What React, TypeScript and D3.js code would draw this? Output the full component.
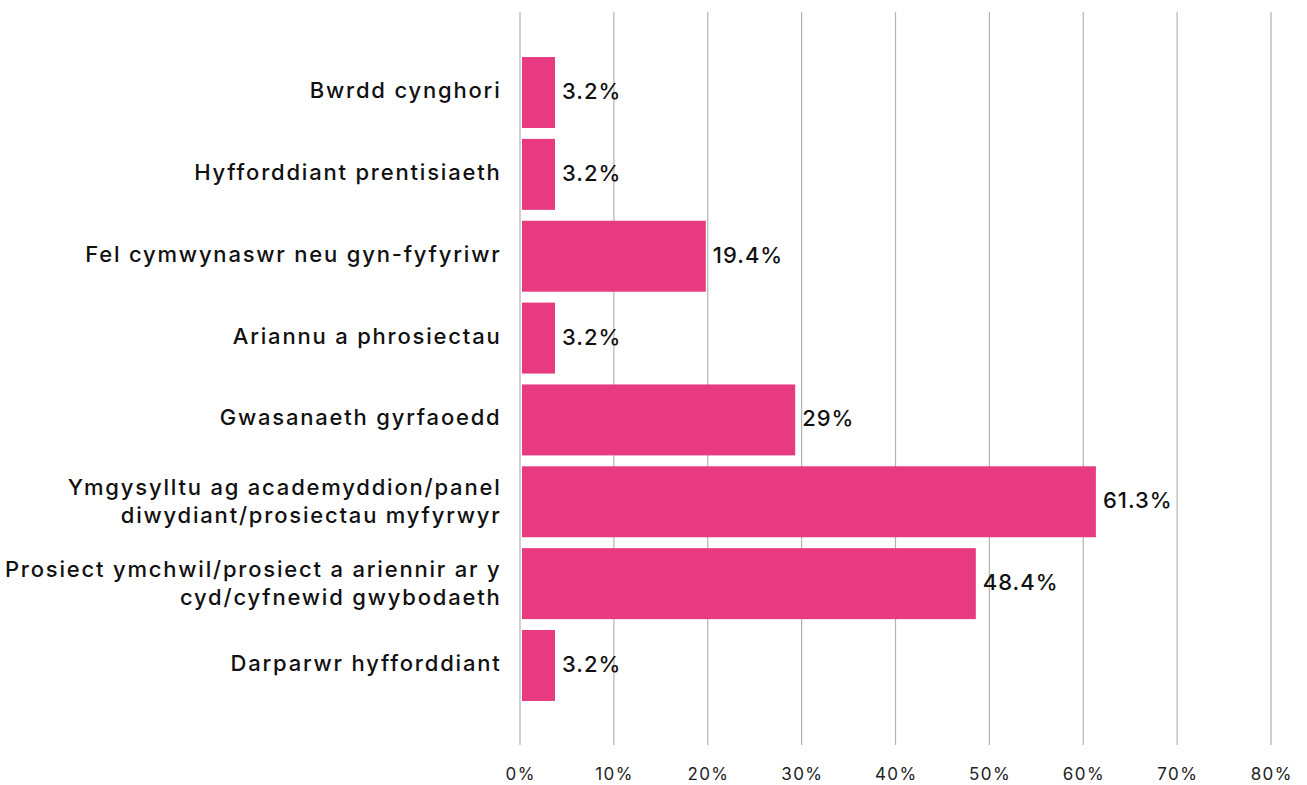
import React from "react";
import * as d3 from "d3";

const categories: string[][] = [
  ["Bwrdd cynghori"],
  ["Hyfforddiant prentisiaeth"],
  ["Fel cymwynaswr neu gyn-fyfyriwr"],
  ["Ariannu a phrosiectau"],
  ["Gwasanaeth gyrfaoedd"],
  ["Ymgysylltu ag academyddion/panel", "diwydiant/prosiectau myfyrwyr"],
  ["Prosiect ymchwil/prosiect a ariennir ar y", "cyd/cyfnewid gwybodaeth"],
  ["Darparwr hyfforddiant"],
];
const values: number[] = [3.2, 3.2, 19.4, 3.2, 29, 61.3, 48.4, 3.2];
const valueLabels: string[] = ["3.2%", "3.2%", "19.4%", "3.2%", "29%", "61.3%", "48.4%", "3.2%"];
const ticks: number[] = [0, 10, 20, 30, 40, 50, 60, 70, 80];

const W = 1307;
const H = 785;
const FONT = "Inter, 'Open Sans', sans-serif";

export default function App() {
  const x = d3.scaleLinear().domain([0, 80]).range([520, 1271]);
  const xBar = d3.scaleLinear().domain([0, 80]).range([525.2, 1270]);
  const keys = categories.map((_, i) => String(i));
  const y = d3
    .scaleBand<string>()
    .domain(keys)
    .range([51.6, 706.4])
    .paddingInner(0.133)
    .paddingOuter(0.0665);
  const gridTop = 12;
  const gridBottom = 745;
  return (
    <svg
      width={W}
      height={H}
      style={{ position: "absolute", left: 0, top: 0, background: "#fff" }}
      fontFamily={FONT}
    >
      {ticks.map((t) => (
        <g key={t}>
          <line
            x1={x(t)}
            x2={x(t)}
            y1={gridTop}
            y2={gridBottom}
            stroke="#b3b3b3"
            strokeWidth={1.2}
          />
          <text
            x={x(t) + 0.7}
            y={780}
            textAnchor="middle"
            fontSize={17}
            letterSpacing={1.4}
            fill="#222"
          >
            {t}%
          </text>
        </g>
      ))}
      {values.map((v, i) => {
        const yy = y(String(i))!;
        const bw = y.bandwidth();
        const cy = yy + bw / 2;
        const lines = categories[i];
        const lh = 28;
        const base = lines.length > 1 ? 7.5 : 5.5;
        return (
          <g key={i}>
            <rect
              x={x(0) + 2}
              y={yy}
              width={xBar(v) - x(0) - 2}
              height={bw}
              fill="#E83A80"
            />
            <text
              x={xBar(v) + 7}
              y={cy + 6.5}
              fontSize={22}
              letterSpacing={1.0}
              fontWeight={500}
              fill="#111"
            >
              {valueLabels[i]}
            </text>
            {lines.map((ln, j) => (
              <text
                key={j}
                x={501.5}
                y={cy + base + (j - (lines.length - 1) / 2) * lh}
                textAnchor="end"
                fontSize={22}
                letterSpacing={1.8}
                fontWeight={500}
                fill="#111"
              >
                {ln}
              </text>
            ))}
          </g>
        );
      })}
    </svg>
  );
}
